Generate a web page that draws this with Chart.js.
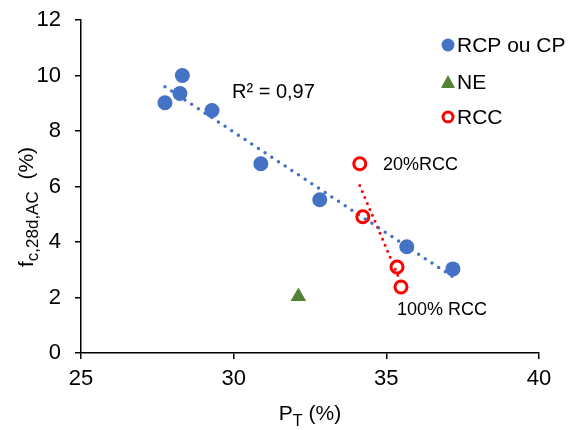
<!DOCTYPE html>
<html>
<head>
<meta charset="utf-8">
<script src="https://cdn.jsdelivr.net/npm/chart.js@4/dist/chart.umd.min.js"></script>
<style>
  html, body { margin: 0; padding: 0; background: #fff; }
  #wrap { width: 571px; height: 430px; }
</style>
</head>
<body>
<div id="wrap"><canvas id="c" width="571" height="430"></canvas></div>
<script>
// Porosité totale P_T (%) et fc,28d,AC (%) par famille de granulats
const rcpX = [27.75, 28.32, 28.24, 29.29, 30.89, 32.82, 35.67, 37.18];
const rcpY = [9.02, 10.0, 9.35, 8.74, 6.82, 5.52, 3.83, 3.03];
const neX = [32.12];
const neY = [2.04];
const rccX = [34.13, 34.23, 35.35, 35.48];
const rccY = [6.82, 4.91, 3.10, 2.38];

const seriesNames = ['RCP ou CP', 'NE', 'RCC'];
const r2Label = 'R² = 0,97';
const rccLowLabel = '20%RCC';
const rccHighLabel = '100% RCC';
const xTicks = [25, 30, 35, 40];
const yTicks = [0, 2, 4, 6, 8, 10, 12];

const BLUE = '#4472C4';
const GREEN = '#548235';
const RED = '#FF0000';
const FONT = '"Liberation Sans", Arial, sans-serif';

function toPoints(xs, ys) { return xs.map((x, i) => ({ x: x, y: ys[i] })); }

// Linear least-squares trendline over the data range
function trend(xs, ys) {
  const n = xs.length;
  const mx = xs.reduce((a, b) => a + b, 0) / n;
  const my = ys.reduce((a, b) => a + b, 0) / n;
  let sxy = 0, sxx = 0;
  for (let i = 0; i < n; i++) { sxy += (xs[i] - mx) * (ys[i] - my); sxx += (xs[i] - mx) ** 2; }
  const b = sxy / sxx, a = my - b * mx;
  const x0 = Math.min(...xs), x1 = Math.max(...xs);
  return [{ x: x0, y: a + b * x0 }, { x: x1, y: a + b * x1 }];
}

// Axis titles with subscripts, legend and text labels
const decorations = {
  id: 'decorations',
  afterDraw(chart) {
    const ctx = chart.ctx;
    ctx.save();
    ctx.fillStyle = '#000';
    ctx.textBaseline = 'alphabetic';

    // x title: P_T (%)
    const mainX = '21px ' + FONT, subX = '16px ' + FONT;
    ctx.font = mainX; const wP = ctx.measureText('P').width;
    ctx.font = subX; const wT = ctx.measureText('T').width;
    ctx.font = mainX; const wR = ctx.measureText(' (%)').width;
    const cx = (chart.chartArea.left + chart.chartArea.right) / 2;
    let x = cx - (wP + wT + wR) / 2;
    const by = 420;
    ctx.textAlign = 'left';
    ctx.font = mainX; ctx.fillText('P', x, by); x += wP;
    ctx.font = subX; ctx.fillText('T', x, by + 6); x += wT;
    ctx.font = mainX; ctx.fillText(' (%)', x, by);

    // y title: f_c,28d,AC  (%)
    ctx.save();
    ctx.translate(33, 207);
    ctx.rotate(-Math.PI / 2);
    const mainY = '21px ' + FONT, subY = '17px ' + FONT;
    ctx.font = mainY; const wf = ctx.measureText('f').width;
    ctx.font = subY; const ws = ctx.measureText('c,28d,AC').width;
    ctx.font = mainY; const wp = ctx.measureText('  (%)').width;
    let t = -(wf + ws + wp) / 2;
    ctx.font = mainY; ctx.fillText('f', t, 0); t += wf;
    ctx.font = subY; ctx.fillText('c,28d,AC', t, 5); t += ws;
    ctx.font = mainY; ctx.fillText('  (%)', t, 0);
    ctx.restore();

    // annotations
    ctx.textBaseline = 'middle';
    ctx.font = '20px ' + FONT;
    ctx.fillText(r2Label, 232, 92);
    ctx.font = '18px ' + FONT;
    ctx.fillText(rccLowLabel, 383, 165);
    ctx.fillText(rccHighLabel, 397, 310);

    // legend
    const lx = 448;
    const rows = [45, 82, 117];
    ctx.fillStyle = BLUE;
    ctx.beginPath(); ctx.arc(lx, rows[0], 6.5, 0, Math.PI * 2); ctx.fill();
    ctx.fillStyle = GREEN;
    ctx.beginPath();
    ctx.moveTo(lx, rows[1] - 7); ctx.lineTo(lx + 7, rows[1] + 6); ctx.lineTo(lx - 7, rows[1] + 6);
    ctx.closePath(); ctx.fill();
    ctx.strokeStyle = RED; ctx.lineWidth = 3;
    ctx.beginPath(); ctx.arc(lx, rows[2], 5, 0, Math.PI * 2); ctx.stroke();
    ctx.fillStyle = '#000';
    ctx.font = '21px ' + FONT;
    seriesNames.forEach((s, i) => ctx.fillText(s, 457, rows[i] + 1));
    ctx.restore();
  }
};

new Chart(document.getElementById('c'), {
  type: 'scatter',
  data: {
    datasets: [
      {
        label: seriesNames[2], data: toPoints(rccX, rccY), order: 1,
        pointStyle: 'circle', pointRadius: 6, pointBorderWidth: 3,
        pointBackgroundColor: 'rgba(0,0,0,0)', pointBorderColor: RED
      },
      {
        label: seriesNames[1], data: toPoints(neX, neY), order: 2,
        pointStyle: 'triangle', pointRadius: 9, pointBorderWidth: 0,
        pointBackgroundColor: GREEN, pointBorderColor: GREEN
      },
      {
        label: seriesNames[0], data: toPoints(rcpX, rcpY), order: 3,
        pointStyle: 'circle', pointRadius: 7.5, pointBorderWidth: 0,
        pointBackgroundColor: BLUE, pointBorderColor: BLUE
      },
      {
        label: 'trend RCP', data: trend(rcpX, rcpY), order: 4, type: 'line',
        showLine: true, pointRadius: 0, borderColor: BLUE, borderWidth: 3.5,
        borderDash: [0, 8], borderCapStyle: 'round', fill: false
      },
      {
        label: 'trend RCC', data: trend(rccX, rccY), order: 5, type: 'line',
        showLine: true, pointRadius: 0, borderColor: RED, borderWidth: 3,
        borderDash: [0, 6.5], borderCapStyle: 'round', fill: false
      }
    ]
  },
  options: {
    responsive: false,
    animation: false,
    layout: { padding: { left: 0, right: 32, top: 20, bottom: 0 } },
    plugins: { legend: { display: false }, tooltip: { enabled: false } },
    scales: {
      x: {
        type: 'linear', min: 25, max: 40,
        afterFit(s) { s.height = 77; },
        afterBuildTicks(s) { s.ticks = xTicks.map(v => ({ value: v })); },
        ticks: { color: '#000', font: { family: FONT, size: 22 }, padding: 7 },
        grid: { drawOnChartArea: false, drawTicks: true, tickLength: 6, color: '#000', lineWidth: 1.5 },
        border: { display: true, color: '#000', width: 1.5 }
      },
      y: {
        type: 'linear', min: 0, max: 12,
        afterFit(s) { s.width = 81; s.paddingTop = 0; s.paddingBottom = 0; },
        afterBuildTicks(s) { s.ticks = yTicks.map(v => ({ value: v })); },
        ticks: { color: '#000', font: { family: FONT, size: 22 }, padding: 14 },
        grid: { drawOnChartArea: false, drawTicks: true, tickLength: 6, color: '#000', lineWidth: 1.5 },
        border: { display: true, color: '#000', width: 1.5 }
      }
    }
  },
  plugins: [decorations]
});
</script>
</body>
</html>
